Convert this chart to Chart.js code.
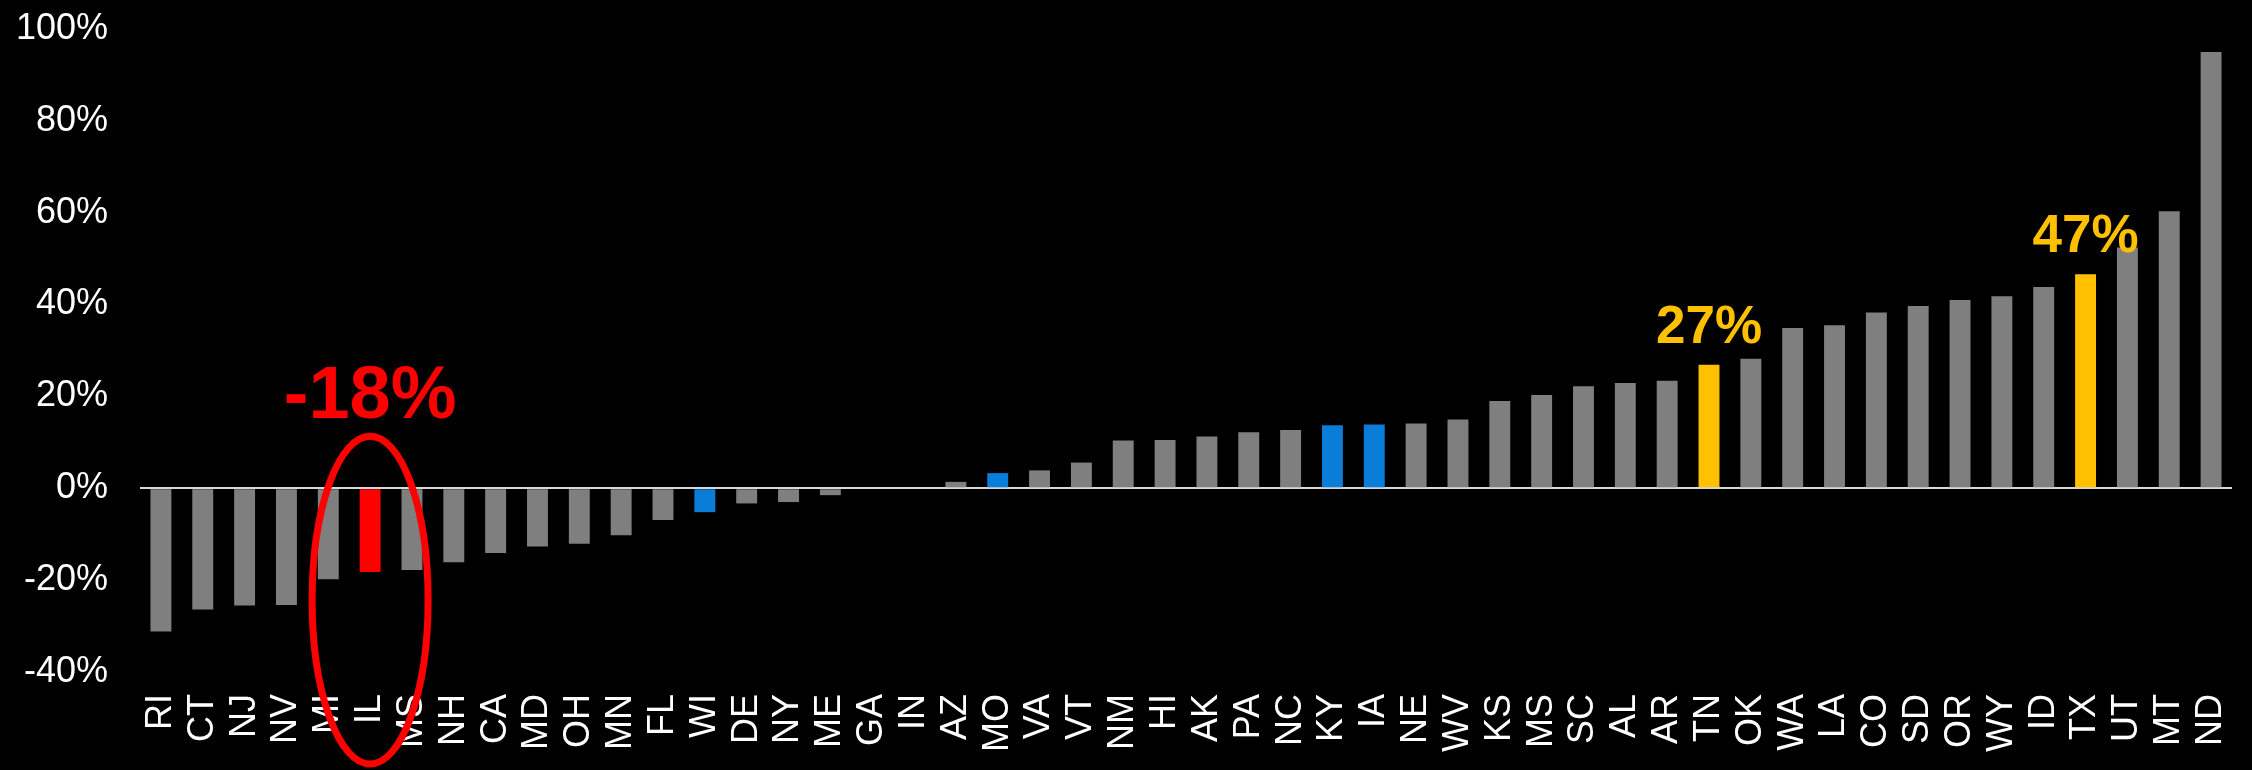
<!DOCTYPE html>
<html>
<head>
<meta charset="utf-8">
<script src="https://cdn.jsdelivr.net/npm/chart.js@4"></script>
<style>
  body { margin: 0; background: #000; }
  #wrap { width: 2252px; height: 770px; }
</style>
</head>
<body>
<div id="wrap"><canvas id="myChart"></canvas></div>
<script>
const states = ['RI','CT','NJ','NV','MI','IL','MS','NH','CA','MD','OH','MN','FL','WI','DE','NY','ME','GA','IN','AZ',
  'MO','VA','VT','NM','HI','AK','PA','NC','KY','IA','NE','WV','KS','MS','SC','AL','AR','TN','OK','WA',
  'LA','CO','SD','OR','WY','ID','TX','UT','MT','ND'];
const growth = [-31.2,-26.4,-25.5,-25.4,-19.8,-18.2,-17.8,-16.1,-14.1,-12.7,-12.1,-10.2,-6.9,-5.2,-3.3,-3.0,-1.5,0,0,1.4,
  3.3,3.9,5.6,10.4,10.5,11.3,12.2,12.7,13.7,13.9,14.1,15.0,19.0,20.3,22.2,22.9,23.4,26.9,28.2,34.9,
  35.5,38.3,39.7,41.0,41.8,43.8,46.6,52.4,60.3,95.0];
const yTicks = [-40,-20,0,20,40,60,80,100];

// which bars are highlighted (by position in the list)
const redBars = [5];
const blueBars = [13, 20, 28, 29];
const goldBars = [37, 46];

// callout labels: bar index + text
const callouts = [
  { idx: 5, text: '-18%' },
  { idx: 37, text: '27%' },
  { idx: 46, text: '47%' }
];

const barColors = growth.map((v, i) => {
  if (redBars.includes(i)) return '#ff0000';
  if (blueBars.includes(i)) return '#0a7dd8';
  if (goldBars.includes(i)) return '#ffc000';
  return '#7f7f7f';
});

const calloutPlugin = {
  id: 'callouts',
  afterDatasetsDraw(chart) {
    const c = chart.ctx;
    const xs = chart.scales.x;
    const ys = chart.scales.y;
    const zeroY = ys.getPixelForValue(0);
    c.save();
    c.textAlign = 'center';
    c.textBaseline = 'alphabetic';
    callouts.forEach(o => {
      const x = xs.getPixelForValue(o.idx);
      const v = growth[o.idx];
      if (v < 0) {
        c.fillStyle = '#ff0000';
        c.font = 'bold 74px "Liberation Sans", Arial, sans-serif';
        c.fillText(o.text, x, zeroY - 70);
        // ring round the bar
        const top = zeroY - 52;
        const bottom = chart.height - 6;
        c.strokeStyle = '#ff0000';
        c.lineWidth = 7;
        c.beginPath();
        c.ellipse(x, (top + bottom) / 2, 58, (bottom - top) / 2, 0, 0, Math.PI * 2);
        c.stroke();
      } else {
        c.fillStyle = '#ffc000';
        c.font = 'bold 53px "Liberation Sans", Arial, sans-serif';
        c.fillText(o.text, x, ys.getPixelForValue(v) - 22);
      }
    });
    c.restore();
  }
};

const ctx = document.querySelector('#myChart');

new Chart(ctx, {
  type: 'bar',
  data: {
    labels: states,
    datasets: [{
      data: growth,
      backgroundColor: barColors,
      borderWidth: 0,
      barPercentage: 0.5,
      categoryPercentage: 1.0
    }]
  },
  options: {
    responsive: true,
    maintainAspectRatio: false,
    devicePixelRatio: 1,
    animation: false,
    layout: {
      padding: { left: 14, right: 20, top: 29, bottom: 0 }
    },
    plugins: {
      legend: { display: false },
      tooltip: { enabled: false }
    },
    scales: {
      x: {
        grid: { display: false },
        border: { display: false },
        afterFit: axis => {
          axis.height = 98;
          axis.paddingLeft = 0;
          axis.paddingRight = 0;
        },
        ticks: {
          color: '#ffffff',
          autoSkip: false,
          minRotation: 90,
          maxRotation: 90,
          padding: 14,
          font: { family: '"Liberation Sans", Arial, sans-serif', size: 36 }
        }
      },
      y: {
        min: -40,
        max: 100,
        afterBuildTicks: axis => { axis.ticks = yTicks.map(v => ({ value: v })); },
        afterFit: axis => {
          axis.width = 126;
          axis.paddingTop = 0;
          axis.paddingBottom = 0;
        },
        border: { display: false },
        grid: {
          drawTicks: false,
          lineWidth: 2,
          color: c => (c.tick && c.tick.value === 0) ? '#d9d9d9' : 'rgba(0,0,0,0)'
        },
        ticks: {
          color: '#ffffff',
          padding: 32,
          font: { family: '"Liberation Sans", Arial, sans-serif', size: 36 },
          callback: v => v + '%'
        }
      }
    }
  },
  plugins: [calloutPlugin]
});
</script>
</body>
</html>
